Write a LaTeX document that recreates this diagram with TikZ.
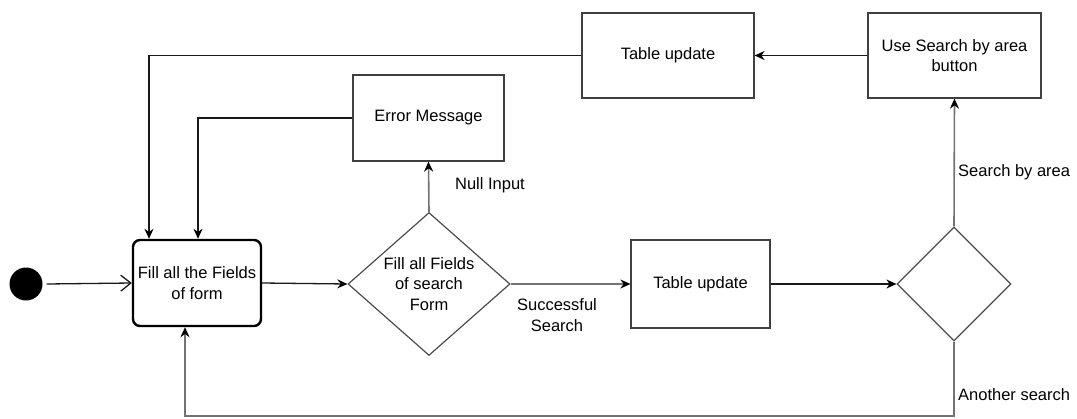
\documentclass[tikz,border=0pt]{standalone}
\usepackage{fontspec}
\setmainfont{Liberation Sans}
\usetikzlibrary{arrows.meta,shapes.geometric,calc}
\tikzset{
  box/.style={draw=black!75, line width=1.2pt, rectangle, minimum width=#1, inner sep=2pt, align=center, font=\fontsize{16.5}{20.5}\selectfont},
  startbox/.style={draw=black, line width=2.4pt, rectangle, rounded corners=7pt, align=center, font=\fontsize{16.5}{20.5}\selectfont},
  decision/.style={draw=black!70, line width=1.2pt, diamond, inner sep=0pt},
  txt/.style={align=center, inner sep=0pt, font=\fontsize{16.5}{20.5}\selectfont},
  lbl/.style={inner sep=0pt, font=\fontsize{16.5}{20.5}\selectfont},
  flow/.style={draw=black!90, line width=1.3pt, -{Stealth[length=10pt,width=9pt,color=black]}},
  branch/.style={draw=black!55, line width=1.6pt, -{Stealth[length=10pt,width=9pt,color=black]}},
  openflow/.style={draw=black!90, line width=1.3pt, -{Straight Barb[length=10pt,width=16pt,line width=1.3pt]}},
}
\begin{document}
\begin{tikzpicture}[x=1pt, y=-1pt]
\useasboundingbox (0,0) rectangle (1077,418);

% initial state
\node[circle, fill=black, minimum size=33pt, inner sep=0pt] (start) at (26,284) {};

% activities
\node[startbox, minimum width=128pt, minimum height=86pt] (fill) at (197,283) {Fill all the Fields\\of form};
\node[box=151pt, minimum height=86pt] (err) at (428.5,118) {Error Message};
\node[box=139pt, minimum height=88pt] (tu2) at (700.5,284) {Table update};
\node[box=172pt, minimum height=85pt] (tu1) at (668,55.5) {Table update};
\node[box=173pt, minimum height=85pt] (area) at (954.5,55.5) {Use Search by area\\button};

% decisions
\node[decision, minimum width=162pt, minimum height=143pt] (d1) at (429,284) {};
\node[txt] (d1t) at (d1.center) {Fill all Fields\\of search\\Form};
\node[decision, minimum width=114pt, minimum height=114pt] (d2) at (954,284) {};

% guards
\node[lbl] (gnull) at (490,185) {Null Input};
\node[txt] (gok) at (557,315) {Successful\\Search};
\node[lbl, anchor=west] (garea) at (958,172) {Search by area};
\node[lbl, anchor=west] (gagain) at (958,395) {Another search};

% loop-back corner
\coordinate (back) at (954,416);

% connectors
\draw[openflow] ([xshift=4pt]start.east) -- (fill.west);
\draw[flow] (fill.east) -- (d1.west);
\draw[branch] (d1.north) -- (err.south);
\draw[branch] (d1.east) -- (tu2.west);
\draw[flow] (tu2.east) -- (d2.west);
\draw[branch] (d2.north) -- (area.south);
\draw[flow] (area.west) -- (tu1.east);
\draw[flow] (tu1.west) -| ([xshift=-48pt]fill.north);
\draw[flow] (err.west) -| ([xshift=1pt]fill.north);
\draw[branch] (d2.south) -- (back) -| ([xshift=-12pt]fill.south);
\end{tikzpicture}
\end{document}
